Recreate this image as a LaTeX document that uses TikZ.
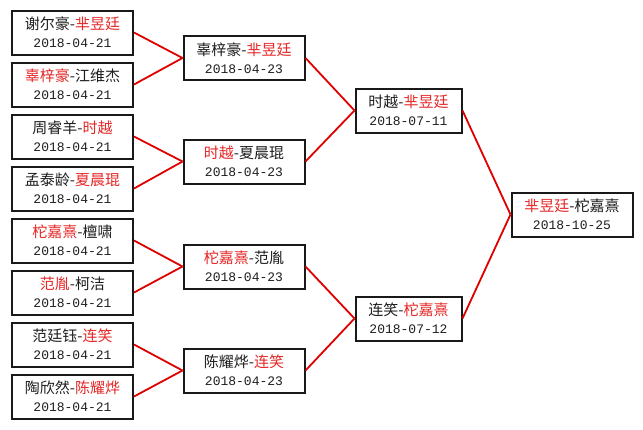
\documentclass[tikz,border=0pt]{standalone}
\usepackage{fontspec}
\setmainfont{Noto Sans CJK SC}
\newfontfamily\datefont{Liberation Mono}
\definecolor{winred}{RGB}{230,40,40}
\definecolor{linered}{RGB}{225,0,0}
\definecolor{txt}{RGB}{30,30,30}
\newcommand\redtxt[1]{\textcolor{winred}{#1}}
\newcommand\dt[1]{{\fontsize{13}{18}\datefont #1}}
\begin{document}
\begin{tikzpicture}[x=1pt,y=-1pt,
  game/.style={draw=black!90, line width=2pt, fill=white, rectangle, align=center,
    minimum width=121pt, minimum height=44pt, inner sep=0pt, text=txt,
    font=\fontsize{15}{18}\selectfont},
  semi/.style={game, minimum width=106pt},
  link/.style={draw=linered, line width=1.8pt}]
\useasboundingbox[fill=white] (0,0) rectangle (643,429);
% round 1
\node[game] (a1) at (72.5,32.5)  {谢尔豪-\redtxt{芈昱廷}\\\dt{2018-04-21}};
\node[game] (a2) at (72.5,84.5)  {\redtxt{辜梓豪}-江维杰\\\dt{2018-04-21}};
\node[game] (a3) at (72.5,136.5) {周睿羊-\redtxt{时越}\\\dt{2018-04-21}};
\node[game] (a4) at (72.5,188.5) {孟泰龄-\redtxt{夏晨琨}\\\dt{2018-04-21}};
\node[game] (a5) at (72.5,240.5) {\redtxt{柁嘉熹}-檀啸\\\dt{2018-04-21}};
\node[game] (a6) at (72.5,292.5) {\redtxt{范胤}-柯洁\\\dt{2018-04-21}};
\node[game] (a7) at (72.5,344.5) {范廷钰-\redtxt{连笑}\\\dt{2018-04-21}};
\node[game] (a8) at (72.5,396.5) {陶欣然-\redtxt{陈耀烨}\\\dt{2018-04-21}};
% round 2
\node[game] (b1) at (244,58)    {辜梓豪-\redtxt{芈昱廷}\\\dt{2018-04-23}};
\node[game] (b2) at (244,161.5) {\redtxt{时越}-夏晨琨\\\dt{2018-04-23}};
\node[game] (b3) at (244,266.5) {\redtxt{柁嘉熹}-范胤\\\dt{2018-04-23}};
\node[game] (b4) at (244,370.5) {陈耀烨-\redtxt{连笑}\\\dt{2018-04-23}};
% semifinals
\node[semi] (c1) at (408.5,110.5) {时越-\redtxt{芈昱廷}\\\dt{2018-07-11}};
\node[semi] (c2) at (408.5,318.5) {连笑-\redtxt{柁嘉熹}\\\dt{2018-07-12}};
% final
\node[game] (d1) at (572,214.5) {\redtxt{芈昱廷}-柁嘉熹\\\dt{2018-10-25}};
% connectors
\draw[link] (a1.east) -- (b1.west);
\draw[link] (a2.east) -- (b1.west);
\draw[link] (a3.east) -- (b2.west);
\draw[link] (a4.east) -- (b2.west);
\draw[link] (a5.east) -- (b3.west);
\draw[link] (a6.east) -- (b3.west);
\draw[link] (a7.east) -- (b4.west);
\draw[link] (a8.east) -- (b4.west);
\draw[link] (b1.east) -- (c1.west);
\draw[link] (b2.east) -- (c1.west);
\draw[link] (b3.east) -- (c2.west);
\draw[link] (b4.east) -- (c2.west);
\draw[link] (c1.east) -- (d1.west);
\draw[link] (c2.east) -- (d1.west);
\end{tikzpicture}
\end{document}
